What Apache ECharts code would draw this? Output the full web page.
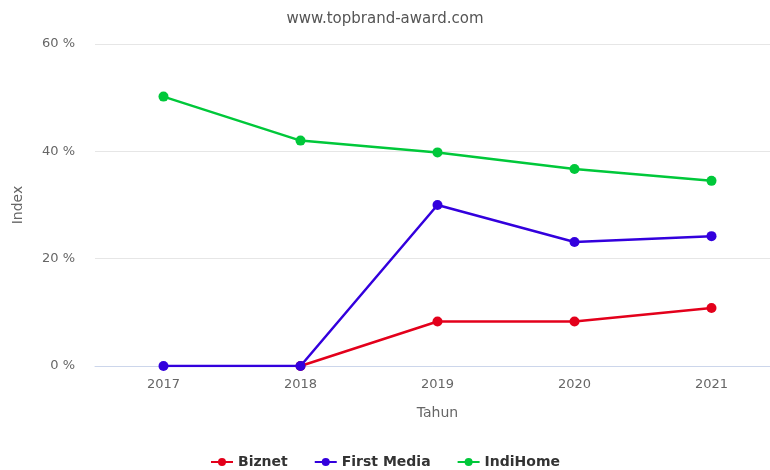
<!DOCTYPE html>
<html>
<head>
<meta charset="utf-8">
<script src="https://cdn.jsdelivr.net/npm/echarts@6/dist/echarts.min.js"></script>
<style>
  html, body { margin: 0; padding: 0; background: #fff; }
  #chart { width: 770px; height: 470px; }
</style>
</head>
<body>
<div id="chart"></div>
<script>
// data
const years = ['2017', '2018', '2019', '2020', '2021']
const biznet = [null, 0, 8.3, 8.3, 10.8]
const firstMedia = [0, 0, 30.0, 23.1, 24.2]
const indiHome = [50.2, 42.0, 39.8, 36.7, 34.5]
const yTicks = [0, 20, 40, 60]

const chart = echarts.init(document.getElementById('chart'))

const makeSeries = (name, data, color, z) => ({
  name: name,
  type: 'line',
  data: data,
  z: z,
  symbol: 'circle',
  symbolSize: 10,
  showAllSymbol: true,
  color: color,
  lineStyle: { width: 2.5, color: color },
  itemStyle: { color: color }
})

const option = {
  animation: false,
  textStyle: { fontFamily: '"DejaVu Sans", sans-serif' },
  title: {
    text: 'www.topbrand-award.com',
    left: 'center',
    top: 7,
    textStyle: { fontSize: 15, fontWeight: 'normal', color: '#555' }
  },
  legend: {
    top: 450,
    left: 'center',
    itemGap: 26,
    itemWidth: 22,
    itemHeight: 10,
    textStyle: { fontSize: 14, fontWeight: 'bold', color: '#333' },
    data: ['Biznet', 'First Media', 'IndiHome']
  },
  grid: {
    left: 95,
    top: 44,
    width: 685,
    bottom: 104,
    outerBoundsMode: 'none',
    containLabel: false
  },
  xAxis: {
    type: 'category',
    data: years,
    boundaryGap: true,
    name: 'Tahun',
    nameLocation: 'middle',
    nameGap: 40,
    nameTextStyle: { fontSize: 14, color: '#666' },
    axisLine: { lineStyle: { color: '#ccd6eb' } },
    axisTick: { show: false },
    axisLabel: { fontSize: 13, color: '#666', margin: 12 }
  },
  yAxis: {
    type: 'value',
    min: 0,
    max: 60,
    interval: 20,
    name: 'Index',
    nameLocation: 'middle',
    nameGap: 70,
    nameTextStyle: { fontSize: 14, color: '#666' },
    axisLine: { show: false },
    axisTick: { show: false },
    axisLabel: {
      fontSize: 13,
      color: '#666',
      margin: 20,
      formatter: (v) => (yTicks.includes(v) ? v + ' %' : '')
    },
    splitLine: { lineStyle: { color: '#e6e6e6' } }
  },
  series: [
    makeSeries('Biznet', biznet, '#e3001b', 2),
    makeSeries('First Media', firstMedia, '#3300dd', 3),
    makeSeries('IndiHome', indiHome, '#00c83a', 4)
  ]
}

chart.setOption(option)
</script>
</body>
</html>
